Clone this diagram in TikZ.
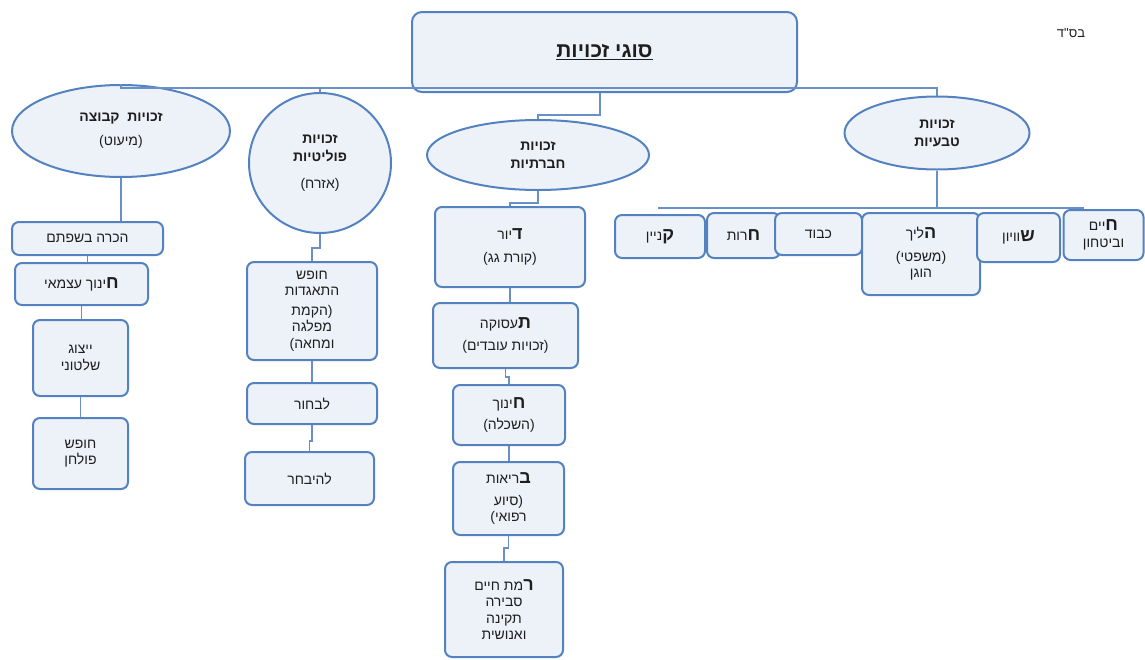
\documentclass[tikz,border=0pt]{standalone}
\usepackage{fontspec}
\setmainfont{Liberation Sans}
\newfontfamily\heb[Script=Hebrew]{Liberation Sans}
\TeXXeTstate=1
\usetikzlibrary{shapes.geometric}
\definecolor{bline}{RGB}{84,130,192}
\definecolor{bfill}{RGB}{237,242,249}
\definecolor{cline}{RGB}{105,143,200}
\definecolor{txt}{RGB}{30,30,30}
\newcommand{\RL}[1]{\beginR #1\endR}
\newcommand{\BL}[1]{{\fontsize{18}{18}\selectfont\bfseries #1}}
\begin{document}
\begin{tikzpicture}[x=1pt,y=-1pt,
 box/.style={draw=bline, fill=bfill, line width=2pt, rounded corners=7pt, inner sep=2pt, align=center, text=txt, font=\heb\fontsize{14}{16.5}\selectfont},
 ell/.style={draw=bline, fill=bfill, line width=2pt, ellipse, inner sep=0pt, align=center, text=txt, font=\heb\bfseries\fontsize{14}{18}\selectfont},
 conn/.style={draw=cline, line width=1.8pt}]
\useasboundingbox (0,0) rectangle (1145,659);
\coordinate (bar) at (0,88);
\coordinate (j1) at (600,115);
\coordinate (nbar) at (0,208);

% top level
\node[box, minimum width=385, minimum height=80, rounded corners=10pt] (top) at (604.5,52) {\fontsize{21}{24}\selectfont\bfseries\underline{\RL{סוגי זכויות}}};
\node[text=txt, font=\heb\fontsize{13}{15}\selectfont] (bsd) at (1071,33) {\RL{בס"ד}};

% ellipses
\node[ell, minimum width=218, minimum height=92] (kvutza) at (121,131) {\RL{זכויות\ \ קבוצה}\\[6pt]{\mdseries\RL{(מיעוט)}}};
\node[ell, minimum width=142, minimum height=140] (politiot) at (320,163) {\RL{זכויות}\\\RL{פוליטיות}\\[9pt]{\mdseries\RL{(אזרח)}}};
\node[ell, minimum width=222, minimum height=70] (hevratiyot) at (538,155) {\RL{זכויות}\\\RL{חברתיות}};
\node[ell, minimum width=185, minimum height=73] (tivyiot) at (937,133) {\RL{זכויות}\\\RL{טבעיות}};

% connectors
\draw[conn] (kvutza.north) -- (kvutza.north |- bar) -- (tivyiot.north |- bar) -- (tivyiot.north);
\draw[conn] (politiot.north) -- (politiot.north |- bar);
\draw[conn] (top.south -| j1) -- (j1) -| (hevratiyot.north);
\draw[conn] (kvutza.south) -- (kvutza.south |- 0,222);
\draw[conn] (politiot.south) -- ++(0,14) -| (312,262);
\draw[conn] (hevratiyot.south) -- ++(0,12) -| (510,207);
\draw[conn] (tivyiot.south) -- (tivyiot.south |- nbar);

% group rights
\node[box, minimum width=151, minimum height=33] (hakara) at (87.5,238.5) {\RL{הכרה בשפתם}};
\node[box, minimum width=133, minimum height=42] (hinuchA) at (81.5,284) {\RL{\BL{ח}ינוך עצמאי}};
\node[box, minimum width=95, minimum height=76] (yitzug) at (80.5,358) {\RL{ייצוג}\\\RL{שלטוני}};
\node[box, minimum width=95, minimum height=71] (pulhan) at (80.5,453.5) {\RL{חופש}\\\RL{פולחן}};
\draw[conn] (hakara.south) -- (hakara.south |- hinuchA.north);
\draw[conn] (hinuchA.south) -- (hinuchA.south |- yitzug.north);
\draw[conn] (yitzug.south) -- (yitzug.south |- pulhan.north);

% political rights
\node[box, minimum width=130, minimum height=98] (hitagdut) at (312,311) {\RL{חופש}\\\RL{התאגדות}\\[3pt]\RL{(הקמת}\\\RL{מפלגה}\\\RL{ומחאה)}};
\node[box, minimum width=130, minimum height=41] (livchor) at (312,403.5) {\RL{לבחור}};
\node[box, minimum width=129, minimum height=53] (lehibachar) at (309.5,478.5) {\RL{להיבחר}};
\draw[conn] (hitagdut.south) -- (hitagdut.south |- livchor.north);
\draw[conn] (livchor.south) -- ++(0,16) -| (lehibachar.north);

% social rights
\node[box, minimum width=150, minimum height=80] (dior) at (510,247) {\RL{\BL{ד}יור}\\[7pt]\RL{(קורת גג)}};
\node[box, minimum width=145, minimum height=65] (taasuka) at (505.5,335.5) {\RL{\BL{ת}עסוקה}\\[5pt]\RL{(זכויות עובדים)}};
\node[box, minimum width=112, minimum height=60] (hinuch) at (509,415) {\RL{\BL{ח}ינוך}\\[5pt]\RL{(השכלה)}};
\node[box, minimum width=111, minimum height=73] (briut) at (508.5,498.5) {\RL{\BL{ב}ריאות}\\[5pt]\RL{(סיוע}\\\RL{רפואי)}};
\node[box, minimum width=118, minimum height=95] (ramat) at (504,609.5) {\RL{\BL{ר}מת חיים}\\\RL{סבירה}\\\RL{תקינה}\\\RL{ואנושית}};
\draw[conn] (dior.south) -- (dior.south |- taasuka.north);
\draw[conn] (taasuka.south) -- ++(0,8) -| (hinuch.north);
\draw[conn] (hinuch.south) -- (hinuch.south |- briut.north);
\draw[conn] (briut.south) -- ++(0,12) -| (ramat.north);

% natural rights
\node[box, minimum width=90, minimum height=43] (kinyan) at (660,236.5) {\RL{\BL{ק}ניין}};
\node[box, minimum width=73, minimum height=45] (herut) at (743.5,235.5) {\RL{\BL{ח}רות}};
\node[box, minimum width=87, minimum height=42] (kavod) at (818.5,234) {\RL{כבוד}};
\node[box, minimum width=118, minimum height=82] (halich) at (921,254) {\RL{\BL{ה}ליך}\\[6pt]\RL{(משפטי)}\\\RL{הוגן}};
\node[box, minimum width=83, minimum height=49] (shivyon) at (1018.5,237.5) {\RL{\BL{ש}וויון}};
\node[box, minimum width=80, minimum height=50] (haim) at (1103.5,235) {\RL{\BL{ח}יים}\\\RL{וביטחון}};
\draw[conn] ([xshift=-2pt]kinyan.north |- nbar) -- ([xshift=-20pt]haim.north |- nbar);
\end{tikzpicture}
\end{document}
